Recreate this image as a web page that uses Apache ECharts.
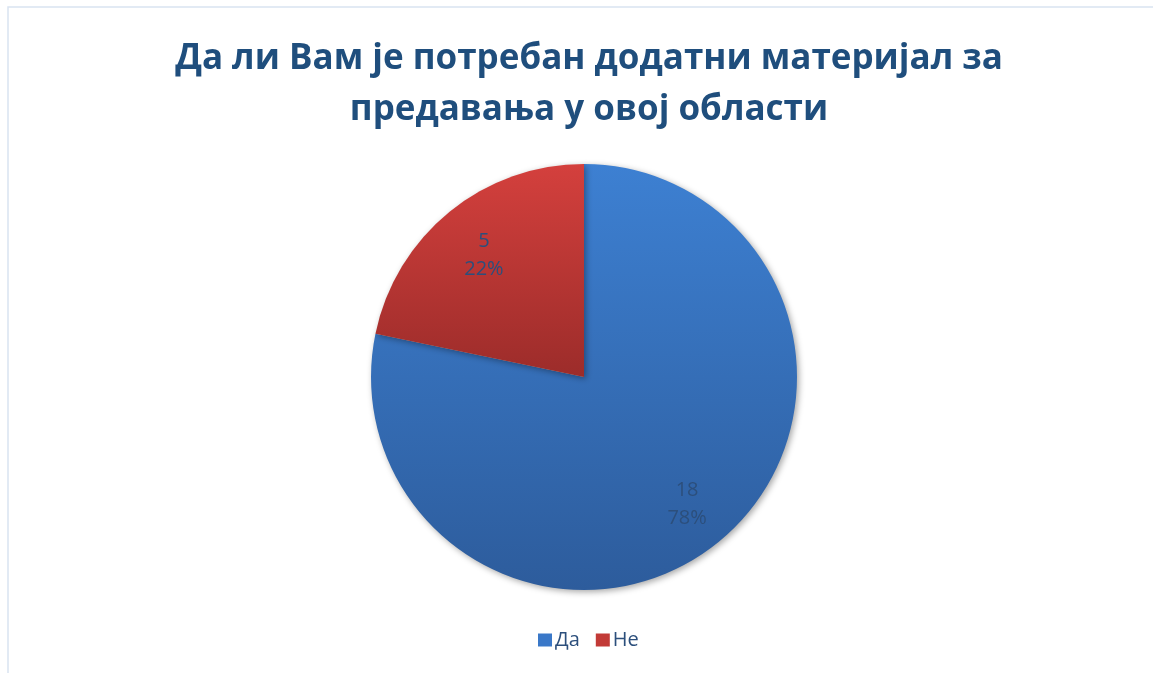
<!DOCTYPE html>
<html><head><meta charset="utf-8">
<script src="https://cdn.jsdelivr.net/npm/echarts@6/dist/echarts.min.js"></script>
<style>html,body{margin:0;padding:0;background:#fff}#c{width:1153px;height:673px}</style>
</head><body><div id="c"></div>
<script>
const titleLines = ['Да ли Вам је потребан додатни материјал за', 'предавања у овој области'];
const categories = ['Да', 'Не'];
const values = [18, 5];

const gradients = [
  new echarts.graphic.LinearGradient(0, 0, 0, 1, [{offset: 0, color: '#3D80D2'}, {offset: 1, color: '#2D5C9C'}]),
  new echarts.graphic.LinearGradient(0, 0, 0, 1, [{offset: 0, color: '#D4403D'}, {offset: 1, color: '#9C2C2A'}])
];
const legendColors = ['#3A78C8', '#C23A37'];
const labelOffsets = [[34, 42], [-31, -37]];

const chart = echarts.init(document.getElementById('c'));
chart.setOption({
  animation: false,
  graphic: [{
    type: 'rect', shape: {x: 8, y: 7, width: 1300, height: 800},
    style: {fill: 'none', stroke: '#D9E3F1', lineWidth: 1.5}, z: -1
  }],
  title: {
    text: titleLines.join('\n'),
    left: 584, top: 29, textAlign: 'center',
    textStyle: {fontFamily: 'Open Sans', fontWeight: 'bold', fontSize: 35, color: '#1F4E7D', lineHeight: 51}
  },
  legend: {
    bottom: 18, left: 533, itemWidth: 14, itemHeight: 13, itemGap: 16,
    icon: 'rect',
    textStyle: {fontFamily: 'Open Sans', fontSize: 20, color: '#2C4F7C', padding: [0,0,0,-2]},
    data: categories.map((c, i) => ({name: c, itemStyle: {color: legendColors[i]}}))
  },
  series: [{
    type: 'pie', center: [584, 377], radius: 213, startAngle: 90, clockwise: true,
    itemStyle: {shadowBlur: 6, shadowOffsetX: 2, shadowOffsetY: 2, shadowColor: 'rgba(0,0,0,0.35)'},
    label: {
      show: true, position: 'inside',
      formatter: p => p.value + '\n' + Math.round(p.percent) + '%',
      fontFamily: 'Open Sans', fontSize: 20, lineHeight: 28, color: '#2C4F7C'
    },
    labelLine: {show: false},
    emphasis: {disabled: true},
    data: categories.map((c, i) => ({name: c, value: values[i], itemStyle: {color: gradients[i]}, label: {offset: labelOffsets[i]}}))
  }]
});
</script></body></html>
